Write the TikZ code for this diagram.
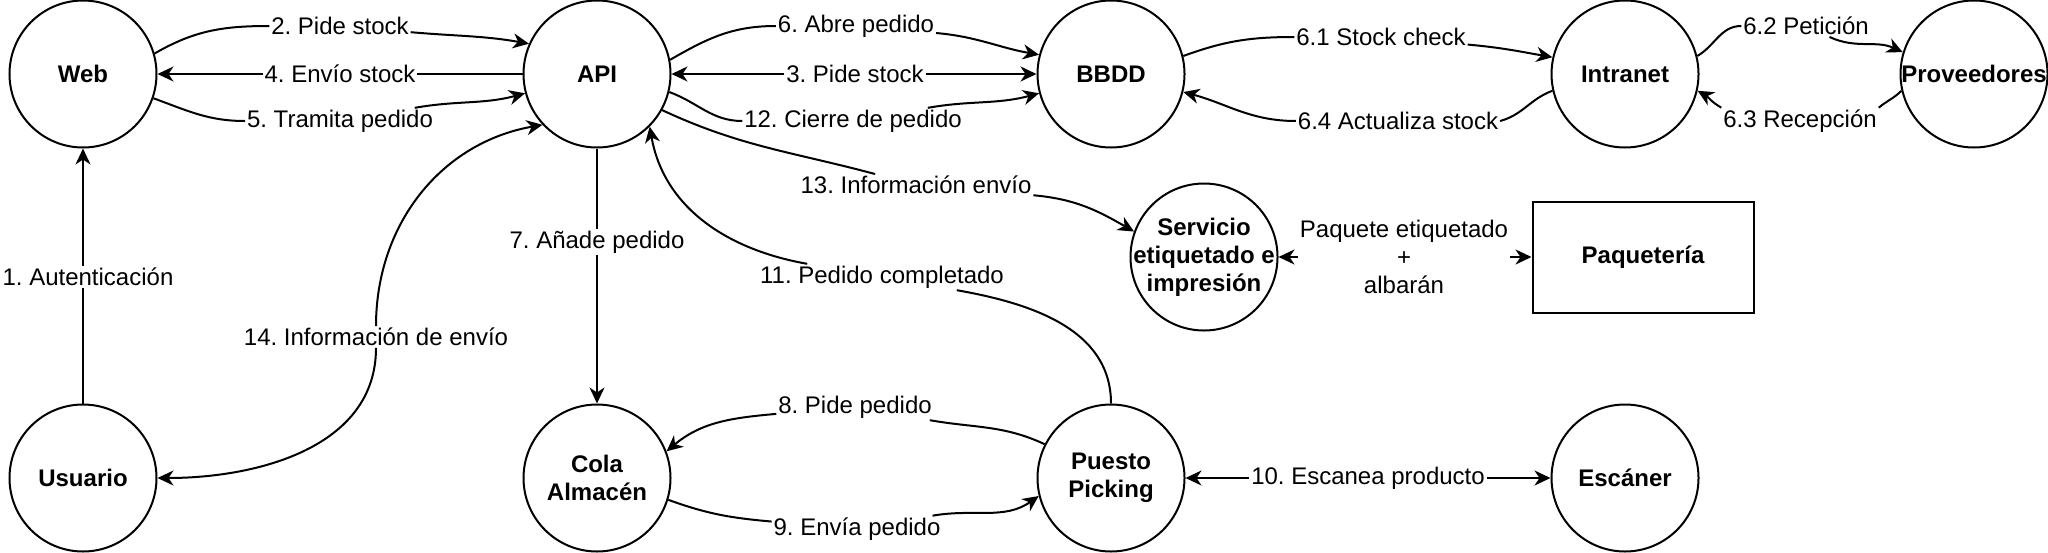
\documentclass[tikz,border=0pt]{standalone}
\usepackage{fontspec}
\setmainfont{Liberation Sans}
\frenchspacing
\usetikzlibrary{arrows.meta}
\tikzset{
  head/.tip={Stealth[length=8pt,width=7.5pt,inset=2.5pt]},
  proc/.style={draw, circle, line width=1pt, minimum size=73.5pt, inner sep=0pt,
    align=center, font=\fontsize{12pt}{14pt}\selectfont\bfseries},
  box/.style={draw, line width=1pt, minimum width=110.5pt, minimum height=55.5pt,
    font=\fontsize{12pt}{14pt}\selectfont\bfseries},
  lbl/.style={fill=white, inner sep=0.8pt, align=center, font=\fontsize{12pt}{14pt}\selectfont},
  arr/.style={-head, line width=1pt}
}
\begin{document}
\begin{tikzpicture}[x=0.5pt,y=-0.5pt]
    \useasboundingbox (0,0) rectangle (2048,552);
    % processes
    \node[proc] (web) at (83,74) {Web};
    \node[proc] (api) at (597,74) {API};
    \node[proc] (bbdd) at (1111,74) {BBDD};
    \node[proc] (intranet) at (1625,74) {Intranet};
    \node[proc] (prov) at (1974,74) {Proveedores};
    \node[proc, inner sep=-4pt] (servicio) at (1204,257) {Servicio\\etiquetado e\\impresión};
    \node[box] (paq) at (1643,257) {Paquetería};
    \node[proc] (usuario) at (83,478) {Usuario};
    \node[proc] (cola) at (597,478) {Cola\\Almacén};
    \node[proc] (puesto) at (1111,478) {Puesto\\Picking};
    \node[proc] (escaner) at (1625,478) {Escáner};
    \draw[arr] (usuario) -- (web);
    % labels
    \node[lbl] (l1) at (88,277) {1. Autenticación};
    \node[lbl] (l2) at (340,26) {2. Pide stock};
    \node[lbl] (l3) at (855,74) {3. Pide stock};
    \node[lbl] (l4) at (340,74) {4. Envío stock};
    \node[lbl] (l5) at (340,121) {5. Tramita pedido};
    \node[lbl] (l6) at (856,26) {6. Abre pedido};
    \node[lbl] (l61) at (1381,37) {6.1 Stock check};
    \node[lbl] (l62) at (1806,26) {6.2 Petición};
    \node[lbl] (l63) at (1800,121) {6.3 Recepción};
    \node[lbl] (l64) at (1398,121) {6.4 Actualiza stock};
    \node[lbl] (l7) at (597,242) {7. Añade pedido};
    \node[lbl] (l8) at (855,407) {8. Pide pedido};
    \node[lbl] (l9) at (857,529) {9. Envía pedido};
    \node[lbl] (l10) at (1368,478) {10. Escanea producto};
    \node[lbl] (l11) at (882,277) {11. Pedido completado};
    \node[lbl] (l12) at (853,121) {12. Cierre de pedido};
    \node[lbl] (l13) at (916,185) {13. Información envío};
    \node[lbl] (l14) at (376,337) {14. Información de envío};
    \node[lbl] (lpaq) at (1404,257) {Paquete etiquetado\\+\\albarán};
    % flows
    \draw[arr] (web.16) to[out=30,in=180] (l2) to[out=-5,in=170] (api.156);
    \draw[arr] (l3) -- (api);
    \draw[arr] (l3) -- (bbdd);
    \draw[arr] (api) -- (l4) -- (web);
    \draw[arr] (web.-19) to[out=-20,in=180] (l5) to[out=10,in=195] (api.-165);
    \draw[arr] (api.11) to[out=30,in=180] (l6) to[out=-5,in=170] (bbdd.165);
    \draw[arr] (bbdd.14) to[out=20,in=180] (l61) to[out=-5,in=170] (intranet.167);
    \draw[arr] (intranet.14) to[out=30,in=180] (l62) to[out=-25,in=155] (prov.163);
    \draw[arr] (prov.-167) to[out=225,in=40] (l63.north east) (l63.north west) to[out=150,in=-30] (intranet.-13);
    \draw[arr] (intranet.-167) to[out=200,in=15] (l64.east) (l64.west) to[out=180,in=-15] (bbdd.-14);
    \draw[arr] (api) -- (l7) -- (cola);
    \draw[arr] (puesto.153) to[out=155,in=-10] (l8) to[out=185,in=40] (cola.21);
    \draw[arr] (cola.-17) to[out=-20,in=175] (l9) to[out=10,in=215] (puesto.-166);
    \draw[arr] (l10) -- (puesto);
    \draw[arr] (l10) -- (escaner);
    \draw[arr] (puesto.north) to[out=90,in=-10] (l11) to[out=170,in=-80] (api.-45);
    \draw[arr] (api.-14) to[out=-20,in=180] (l12) to[out=10,in=195] (bbdd.-165);
    \draw[arr] (api.-29) to[out=-25,in=165] (l13) to[out=-5,in=150] (servicio.160);
    \draw[arr] (l14) to[out=-90,in=0] (usuario);
    \draw[arr] (l14) to[out=90,in=190] (api.-137);
    \draw[arr] (lpaq) -- (servicio);
    \draw[arr] (lpaq) -- (paq);
\end{tikzpicture}
\end{document}
